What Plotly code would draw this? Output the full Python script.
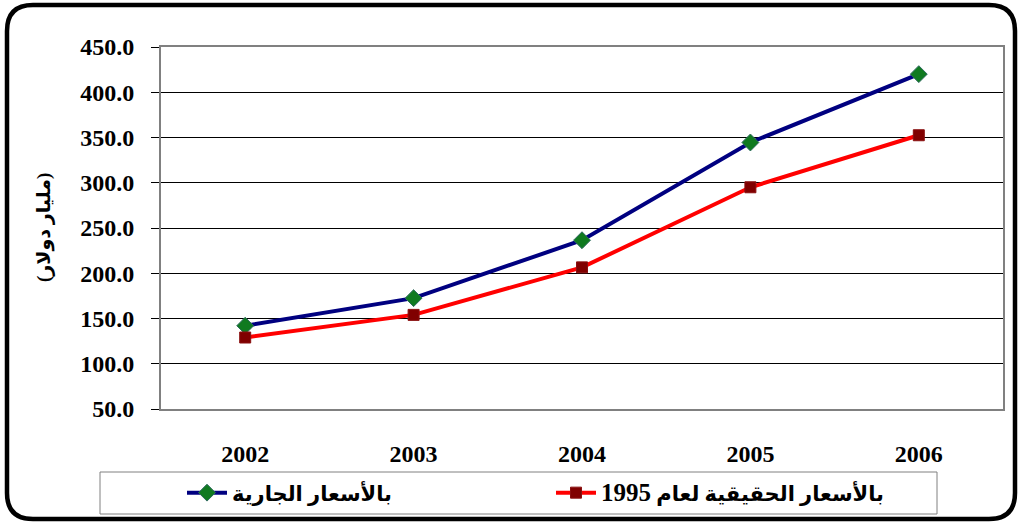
import plotly.graph_objects as go

years = ["2002", "2003", "2004", "2005", "2006"]
current_prices = [142.0, 172.5, 236.5, 344.5, 420.0]
real_prices_1995 = [129.0, 154.0, 206.5, 295.0, 352.5]
name_current = "بالأسعار الجارية"
name_real_text = "بالأسعار الحقيقية لعام"
name_real_year = "1995"
y_title = "(مليار دولار)"

W, H = 1019, 527
L, R, T, B = 161, 1003, 47, 409


def px(x):
    return (x - L) / (R - L)


def py(y):
    return (B - y) / (B - T)


FONT = "Liberation Serif, Times New Roman, DejaVu Serif, DejaVu Sans"

fig = go.Figure()
fig.add_trace(go.Scatter(
    x=years, y=current_prices, name=name_current, mode="lines+markers",
    line=dict(color="#000080", width=4),
    marker=dict(symbol="diamond", size=13, color="#107a20",
                line=dict(color="#2e6b5e", width=1)),
))
fig.add_trace(go.Scatter(
    x=years, y=real_prices_1995,
    name=f'{name_real_text} <span style="font-size:25px">{name_real_year}</span>',
    mode="lines+markers",
    line=dict(color="#ff0000", width=4),
    marker=dict(symbol="square", size=11, color="#800000",
                line=dict(color="#8a1010", width=1)),
))

# outer rounded border
x0, y0, x1, y1, r = 7, 5, 1015, 519, 26
path = (
    f"M {px(x0 + r)},{py(y0)} L {px(x1 - r)},{py(y0)} "
    f"Q {px(x1)},{py(y0)} {px(x1)},{py(y0 + r)} "
    f"L {px(x1)},{py(y1 - r)} Q {px(x1)},{py(y1)} {px(x1 - r)},{py(y1)} "
    f"L {px(x0 + r)},{py(y1)} Q {px(x0)},{py(y1)} {px(x0)},{py(y1 - r)} "
    f"L {px(x0)},{py(y0 + r)} Q {px(x0)},{py(y0)} {px(x0 + r)},{py(y0)} Z"
)
shapes = [
    dict(type="path", xref="paper", yref="paper", path=path,
         line=dict(color="black", width=4.5), layer="above"),
    dict(type="rect", xref="paper", yref="paper",
         x0=px(100), x1=px(937), y0=py(472), y1=py(514),
         line=dict(color="#808080", width=1), fillcolor="rgba(0,0,0,0)"),
]

fig.update_layout(
    width=W, height=H,
    margin=dict(l=L, r=W - R, t=T, b=H - B, pad=0),
    paper_bgcolor="white", plot_bgcolor="white",
    font=dict(family=FONT, color="black"),
    shapes=shapes,
    showlegend=True,
    legend=dict(
        orientation="h", x=px(182), y=py(493), xanchor="left", yanchor="middle",
        font=dict(family=FONT, size=21, color="black", weight="bold"),
        bgcolor="rgba(0,0,0,0)", borderwidth=0,
        entrywidth=314, itemwidth=40, traceorder="normal",
    ),
    annotations=[dict(
        text=y_title, xref="paper", yref="paper", x=px(31), y=py(228),
        showarrow=False, textangle=-90,
        font=dict(family=FONT, size=19, color="black", weight="bold"),
    )],
)

fig.update_xaxes(
    type="category", range=[-0.5, 4.5],
    showline=True, linecolor="#808080", linewidth=2, mirror=True,
    showgrid=False, ticks="", ticklabelstandoff=22,
    tickfont=dict(family=FONT, size=24, color="black", weight="bold"),
)
fig.update_yaxes(
    range=[50, 450], dtick=50, tick0=50, tickformat=".1f",
    showline=True, linecolor="#808080", linewidth=2, mirror=True,
    showgrid=True, gridcolor="black", gridwidth=1,
    ticks="outside", ticklen=8, tickcolor="black", tickwidth=1,
    ticklabelstandoff=12,
    tickfont=dict(family=FONT, size=24, color="black", weight="bold"),
    zeroline=False,
)

fig.write_html("out.html", config={"displayModeBar": False},
               post_script="document.body.style.margin='0';")
